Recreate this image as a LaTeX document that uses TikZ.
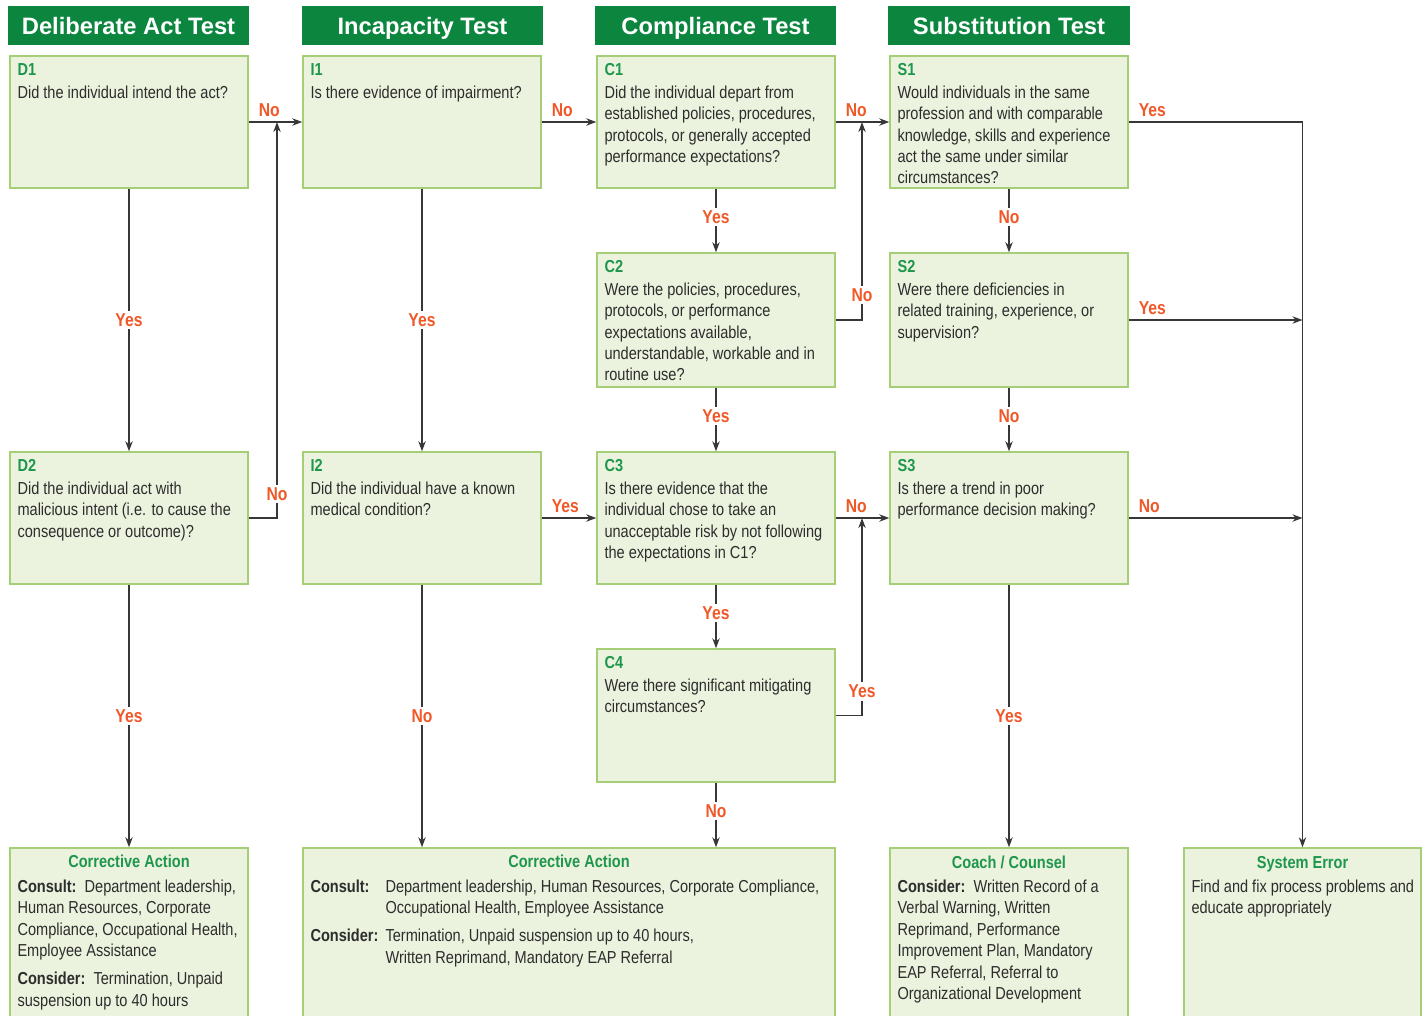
\documentclass[tikz,border=0pt]{standalone}
\usepackage{fontspec}
\setmainfont{Liberation Sans}[FakeStretch=0.84]
\newfontfamily\hdfont{Liberation Sans}
\usetikzlibrary{arrows.meta,fit}

\definecolor{hdgreen}{RGB}{12,134,62}
\definecolor{boxfill}{RGB}{235,243,222}
\definecolor{boxline}{RGB}{165,206,118}
\definecolor{idgreen}{RGB}{30,150,76}
\definecolor{lblorange}{RGB}{240,88,40}
\definecolor{txtgray}{RGB}{45,45,45}
\definecolor{linegray}{RGB}{55,55,55}

\newcommand\qfont{\fontsize{13}{16.1}\selectfont}

\begin{document}
\begin{tikzpicture}[x=0.75pt,y=-0.75pt,
  header/.style={fill=hdgreen, inner sep=0pt},
  headtxt/.style={anchor=base, inner sep=0pt, text=white,
    font=\hdfont\bfseries\fontsize{17.8}{20}\selectfont},
  box/.style={draw=boxline, fill=boxfill, line width=1.1pt, inner sep=0pt},
  qtext/.style={anchor=base west, inner sep=0pt, text=txtgray, font=\qfont},
  ttl/.style={anchor=base, inner sep=0pt, text=idgreen, font=\qfont\bfseries},
  conn/.style={draw=linegray, line width=1.2pt, -{Stealth[length=7.5pt,width=5.5pt]}},
  vlbl/.style={fill=white, inner sep=2pt, text=lblorange,
    font=\bfseries\fontsize{14}{16}\selectfont},
  hlbl/.style={pos=0, anchor=base west, xshift=7pt, yshift=4pt, inner sep=0pt,
    text=lblorange, font=\bfseries\fontsize{14}{16}\selectfont}]

\useasboundingbox (0,0) rectangle (1426,1015);
\fill[white] (0,0) rectangle (1426,1015);

% column headers
\node[header, fit={(8,6)(249,45)}]    (hd) {};
\node[header, fit={(302,6)(543,45)}]  (hi) {};
\node[header, fit={(595,6)(836,45)}]  (hc) {};
\node[header, fit={(888,6)(1130,45)}] (hs) {};
\node[headtxt] at ([shift={(0,8.5)}]hd.center) {Deliberate Act Test};
\node[headtxt] at ([shift={(0,8.5)}]hi.center) {Incapacity Test};
\node[headtxt] at ([shift={(0,8.5)}]hc.center) {Compliance Test};
\node[headtxt] at ([shift={(0,8.5)}]hs.center) {Substitution Test};

% question boxes
\node[box, fit={(10,56)(248,188)}]    (d1) {};
\node[box, fit={(10,452)(248,584)}]   (d2) {};
\node[box, fit={(303,56)(541,188)}]   (i1) {};
\node[box, fit={(303,452)(541,584)}]  (i2) {};
\node[box, fit={(597,56)(835,188)}]   (c1) {};
\node[box, fit={(597,253)(835,387)}]  (c2) {};
\node[box, fit={(597,452)(835,584)}]  (c3) {};
\node[box, fit={(597,649)(835,782)}]  (c4) {};
\node[box, fit={(890,56)(1128,188)}]  (s1) {};
\node[box, fit={(890,253)(1128,387)}] (s2) {};
\node[box, fit={(890,452)(1128,584)}] (s3) {};

% outcome boxes
\node[box, fit={(10,848)(248,1018)}]    (ca1) {};
\node[box, fit={(303,848)(835,1018)}]   (ca2) {};
\node[box, fit={(890,848)(1128,1018)}]  (cc)  {};
\node[box, fit={(1184,848)(1421,1018)}] (se)  {};

% question texts
\newcommand\qbox[2]{\parbox[t]{230pt}{\raggedright\textcolor{idgreen}{\bfseries #1}\\[1pt]#2}}
\node[qtext] at ([shift={(8,20)}]d1.north west) {\qbox{D1}{Did the individual intend the act?}};
\node[qtext] at ([shift={(8,20)}]d2.north west) {\qbox{D2}{Did the individual act with\\malicious intent (i.e. to cause the\\consequence or outcome)?}};
\node[qtext] at ([shift={(8,20)}]i1.north west) {\qbox{I1}{Is there evidence of impairment?}};
\node[qtext] at ([shift={(8,20)}]i2.north west) {\qbox{I2}{Did the individual have a known\\medical condition?}};
\node[qtext] at ([shift={(8,20)}]c1.north west) {\qbox{C1}{Did the individual depart from\\established policies, procedures,\\protocols, or generally accepted\\performance expectations?}};
\node[qtext] at ([shift={(8,20)}]c2.north west) {\qbox{C2}{Were the policies, procedures,\\protocols, or performance\\expectations available,\\understandable, workable and in\\routine use?}};
\node[qtext] at ([shift={(8,20)}]c3.north west) {\qbox{C3}{Is there evidence that the\\individual chose to take an\\unacceptable risk by not following\\the expectations in C1?}};
\node[qtext] at ([shift={(8,20)}]c4.north west) {\qbox{C4}{Were there significant mitigating\\circumstances?}};
\node[qtext] at ([shift={(8,20)}]s1.north west) {\qbox{S1}{Would individuals in the same\\profession and with comparable\\knowledge, skills and experience\\act the same under similar\\circumstances?}};
\node[qtext] at ([shift={(8,20)}]s2.north west) {\qbox{S2}{Were there deficiencies in\\related training, experience, or\\supervision?}};
\node[qtext] at ([shift={(8,20)}]s3.north west) {\qbox{S3}{Is there a trend in poor\\performance decision making?}};

% outcome texts
\node[ttl] at ([shift={(0,20)}]ca1.north) {Corrective Action};
\node[qtext] at ([shift={(8,45)}]ca1.north west) {\parbox[t]{230pt}{\raggedright
  \textbf{Consult:}\ \ Department leadership,\\Human Resources, Corporate\\Compliance, Occupational Health,\\Employee Assistance\\[5pt]
  \textbf{Consider:}\ \ Termination, Unpaid\\suspension up to 40 hours}};

\node[ttl] at ([shift={(0,20)}]ca2.north) {Corrective Action};
\node[qtext] at ([shift={(8,45)}]ca2.north west) {\parbox[t]{520pt}{\raggedright
  \makebox[56.25pt][l]{\textbf{Consult:}}Department leadership, Human Resources, Corporate Compliance,\\
  \hspace*{56.25pt}Occupational Health, Employee Assistance\\[5pt]
  \makebox[56.25pt][l]{\textbf{Consider:}}Termination, Unpaid suspension up to 40 hours,\\
  \hspace*{56.25pt}Written Reprimand, Mandatory EAP Referral}};

\node[ttl] at ([shift={(0,21)}]cc.north) {Coach / Counsel};
\node[qtext] at ([shift={(8,45)}]cc.north west) {\parbox[t]{230pt}{\raggedright
  \textbf{Consider:}\ \ Written Record of a\\Verbal Warning, Written\\Reprimand, Performance\\Improvement Plan, Mandatory\\EAP Referral, Referral to\\Organizational Development}};

\node[ttl] at ([shift={(0,21)}]se.north) {System Error};
\node[qtext] at ([shift={(8,45)}]se.north west) {\parbox[t]{230pt}{\raggedright
  Find and fix process problems and\\educate appropriately}};

% junction points for the return paths
\coordinate (j1) at (277,122);
\coordinate (j2) at (862,122);
\coordinate (j3) at (862,518);
\coordinate (k2) at (se.north |- s2.east);
\coordinate (k3) at (se.north |- s3.east);

% deliberate act column
\draw[conn] (d1) -- node[vlbl] {Yes} (d2);
\draw[conn] (d2) -- node[vlbl] {Yes} (ca1);
\draw[conn] (d1) -- node[hlbl] {No} (i1);
\draw[conn] (d2.east) -| node[vlbl, pos=0.53] {No} (j1);

% incapacity column
\draw[conn] (i1) -- node[vlbl] {Yes} (i2);
\draw[conn] (i2.south) -- node[vlbl] {No} (i2.south |- ca2.north);
\draw[conn] (i1) -- node[hlbl] {No} (c1);
\draw[conn] (i2) -- node[hlbl] {Yes} (c3);

% compliance column
\draw[conn] (c1) -- node[vlbl, pos=0.44] {Yes} (c2);
\draw[conn] (c2) -- node[vlbl, pos=0.44] {Yes} (c3);
\draw[conn] (c3) -- node[vlbl, pos=0.44] {Yes} (c4);
\draw[conn] (c4.south) -- node[vlbl, pos=0.44] {No} (c4.south |- ca2.north);
\draw[conn] (c1) -- node[hlbl] {No} (s1);
\draw[conn] (c3) -- node[hlbl] {No} (s3);
\draw[conn] (c2.east) -| node[vlbl, pos=0.563] {No} (j2);
\draw[conn] (c4.east) -| node[vlbl, pos=0.561] {Yes} (j3);

% substitution column
\draw[conn] (s1) -- node[vlbl, pos=0.44] {No} (s2);
\draw[conn] (s2) -- node[vlbl, pos=0.44] {No} (s3);
\draw[conn] (s3) -- node[vlbl] {Yes} (cc);
\draw[conn] (s1.east) -| node[hlbl] {Yes} (se.north);
\draw[conn] (s2) -- node[hlbl] {Yes} (k2);
\draw[conn] (s3) -- node[hlbl] {No} (k3);

\end{tikzpicture}
\end{document}
